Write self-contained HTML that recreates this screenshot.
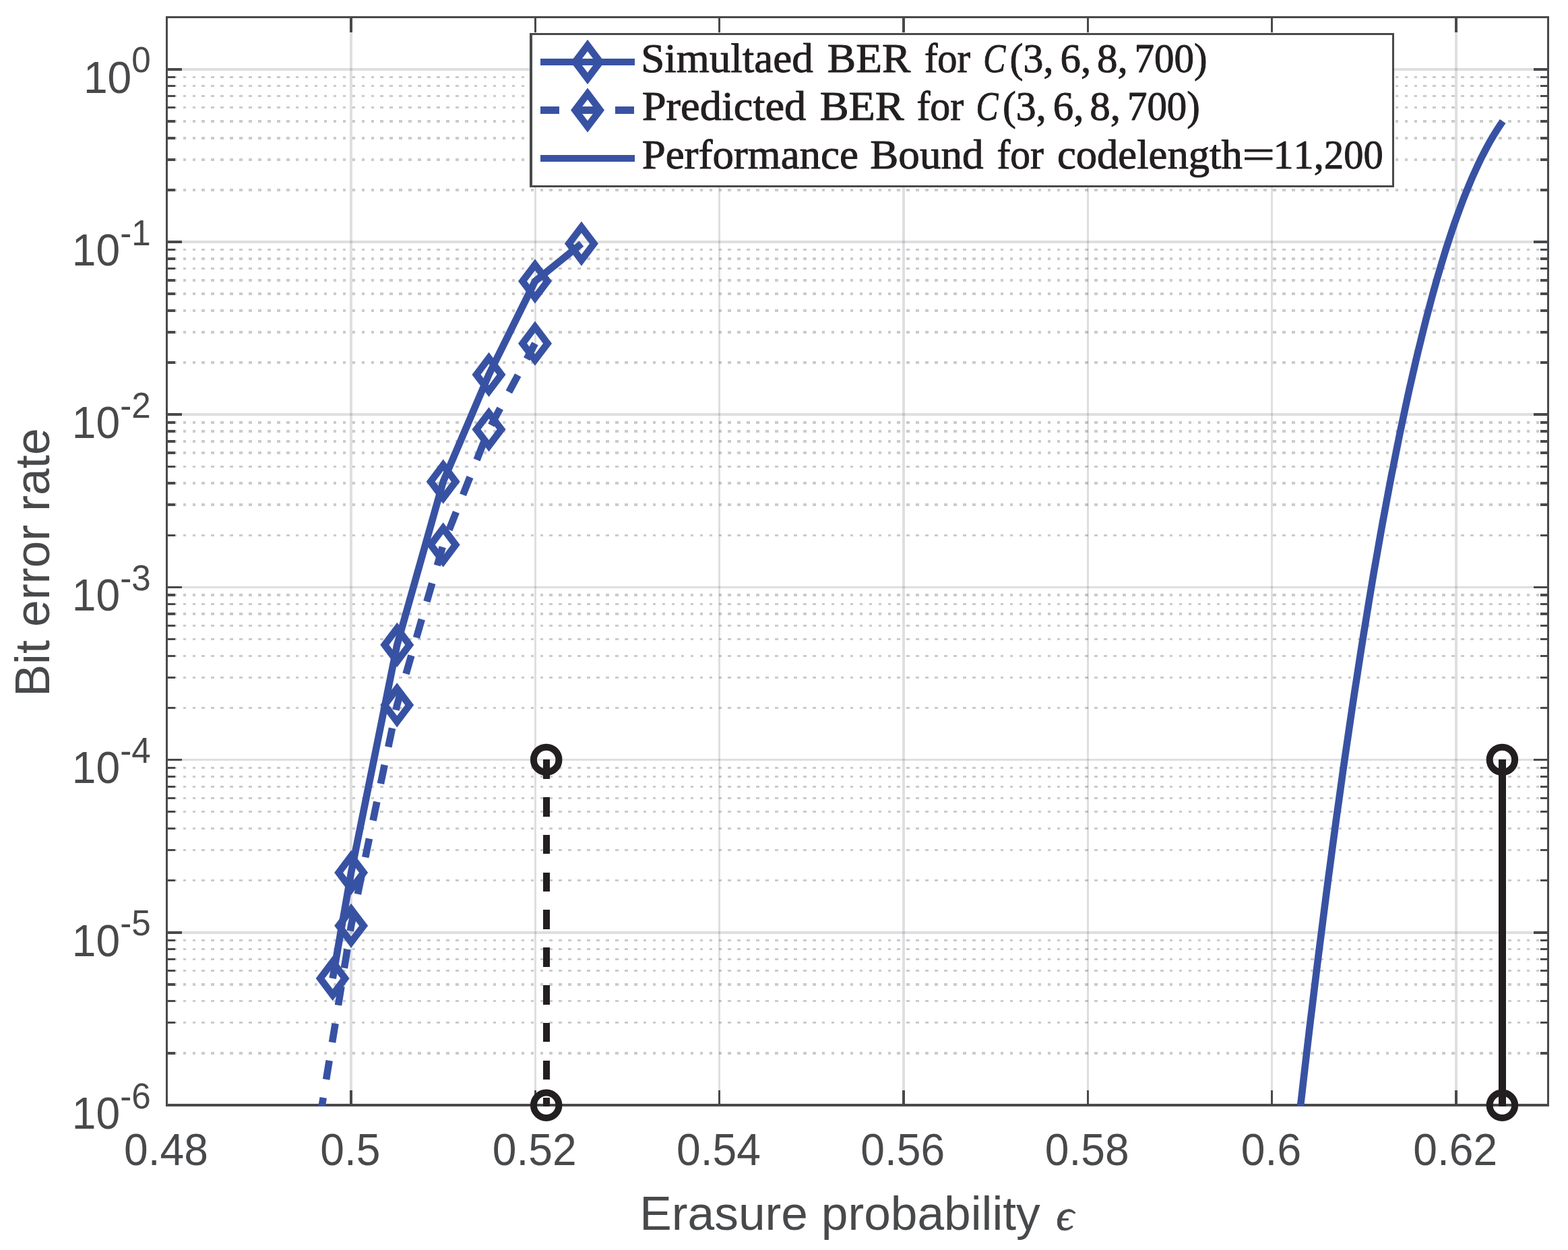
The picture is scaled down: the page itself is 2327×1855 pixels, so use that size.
<!DOCTYPE html>
<html lang="en"><head><meta charset="utf-8"><title>Bit error rate vs erasure probability</title>
<style>html,body{margin:0;padding:0;background:#fff}svg{display:block}</style></head>
<body><svg width="2327" height="1855" viewBox="0 0 2327 1855">
<rect width="2327" height="1855" fill="#fff"/>
<defs><clipPath id="ax"><rect x="246" y="24" width="2053" height="1618"/></clipPath></defs>
<g shape-rendering="crispEdges" fill="none" stroke-width="3.47">
<path stroke="rgba(58,62,70,0.27)" stroke-dasharray="4.56 9.386" d="M257.634 281.92H2296M257.634 236.81H2296M257.634 204.80H2296M257.634 179.97H2296M257.634 159.69H2296M257.634 142.53H2296M257.634 127.68H2296M257.634 114.57H2296M257.634 538.11H2296M257.634 493.00H2296M257.634 460.99H2296M257.634 436.16H2296M257.634 415.88H2296M257.634 398.72H2296M257.634 383.87H2296M257.634 370.76H2296M257.634 794.30H2296M257.634 749.19H2296M257.634 717.18H2296M257.634 692.35H2296M257.634 672.07H2296M257.634 654.91H2296M257.634 640.06H2296M257.634 626.95H2296M257.634 1050.49H2296M257.634 1005.38H2296M257.634 973.37H2296M257.634 948.54H2296M257.634 928.26H2296M257.634 911.10H2296M257.634 896.25H2296M257.634 883.14H2296M257.634 1306.68H2296M257.634 1261.57H2296M257.634 1229.56H2296M257.634 1204.73H2296M257.634 1184.45H2296M257.634 1167.29H2296M257.634 1152.44H2296M257.634 1139.33H2296M257.634 1562.87H2296M257.634 1517.76H2296M257.634 1485.75H2296M257.634 1460.92H2296M257.634 1440.64H2296M257.634 1423.48H2296M257.634 1408.63H2296M257.634 1395.52H2296"/>
<path stroke="rgba(58,62,72,0.165)" d="M249 102.85H2296M249 359.04H2296M249 615.23H2296M249 871.42H2296M249 1127.61H2296M249 1383.80H2296"/>
<path stroke="rgba(58,62,72,0.165)" d="M521.03 27V1638M794.37 27V1638M1067.70 27V1638M1341.03 27V1638M1614.37 27V1638M1887.70 27V1638M2161.03 27V1638"/>
<path stroke="#48494b" d="M249 102.85H270M2296 102.85H2276M249 359.04H270M2296 359.04H2276M249 615.23H270M2296 615.23H2276M249 871.42H270M2296 871.42H2276M249 1127.61H270M2296 1127.61H2276M249 1383.80H270M2296 1383.80H2276M249 281.92H260M2296 281.92H2286M249 236.81H260M2296 236.81H2286M249 204.80H260M2296 204.80H2286M249 179.97H260M2296 179.97H2286M249 159.69H260M2296 159.69H2286M249 142.53H260M2296 142.53H2286M249 127.68H260M2296 127.68H2286M249 114.57H260M2296 114.57H2286M249 538.11H260M2296 538.11H2286M249 493.00H260M2296 493.00H2286M249 460.99H260M2296 460.99H2286M249 436.16H260M2296 436.16H2286M249 415.88H260M2296 415.88H2286M249 398.72H260M2296 398.72H2286M249 383.87H260M2296 383.87H2286M249 370.76H260M2296 370.76H2286M249 794.30H260M2296 794.30H2286M249 749.19H260M2296 749.19H2286M249 717.18H260M2296 717.18H2286M249 692.35H260M2296 692.35H2286M249 672.07H260M2296 672.07H2286M249 654.91H260M2296 654.91H2286M249 640.06H260M2296 640.06H2286M249 626.95H260M2296 626.95H2286M249 1050.49H260M2296 1050.49H2286M249 1005.38H260M2296 1005.38H2286M249 973.37H260M2296 973.37H2286M249 948.54H260M2296 948.54H2286M249 928.26H260M2296 928.26H2286M249 911.10H260M2296 911.10H2286M249 896.25H260M2296 896.25H2286M249 883.14H260M2296 883.14H2286M249 1306.68H260M2296 1306.68H2286M249 1261.57H260M2296 1261.57H2286M249 1229.56H260M2296 1229.56H2286M249 1204.73H260M2296 1204.73H2286M249 1184.45H260M2296 1184.45H2286M249 1167.29H260M2296 1167.29H2286M249 1152.44H260M2296 1152.44H2286M249 1139.33H260M2296 1139.33H2286M249 1562.87H260M2296 1562.87H2286M249 1517.76H260M2296 1517.76H2286M249 1485.75H260M2296 1485.75H2286M249 1460.92H260M2296 1460.92H2286M249 1440.64H260M2296 1440.64H2286M249 1423.48H260M2296 1423.48H2286M249 1408.63H260M2296 1408.63H2286M249 1395.52H260M2296 1395.52H2286M521.03 27V48M521.03 1638V1618M794.37 27V48M794.37 1638V1618M1067.70 27V48M1067.70 1638V1618M1341.03 27V48M1341.03 1638V1618M1614.37 27V48M1614.37 1638V1618M1887.70 27V48M1887.70 1638V1618M2161.03 27V48M2161.03 1638V1618"/>
<path d="M246 24H2299V1642H246ZM249 27V1638H2296V27Z" fill="#48494b" fill-rule="evenodd" stroke="none"/>
</g>
<g clip-path="url(#ax)" fill="none" stroke-linejoin="miter" stroke-miterlimit="10">
<path stroke="#3852a3" stroke-width="10.6" d="M493.7 1452.0L521.1 1295.0L589.3 957.0L657.7 714.7L725.5 555.9L794.0 417.3L862.9 361.6"/>
<path stroke="#3852a3" stroke-width="10.6" stroke-dasharray="28.4 27.4" d="M475.2 1657.0L521.1 1373.8L589.2 1046.3L657.7 808.5L725.5 637.2L794.0 509.7"/>
<path stroke="#3852a3" stroke-width="10.6" d="M1915.9 1766.5L1918.6 1742.8L1921.2 1719.2L1923.8 1695.8L1926.4 1672.7L1929.0 1649.6L1931.7 1626.8L1934.3 1604.2L1936.9 1581.7L1939.5 1559.4L1942.1 1537.4L1944.7 1515.5L1947.4 1493.7L1950.0 1472.2L1952.6 1450.8L1955.2 1429.7L1957.8 1408.7L1960.5 1387.9L1963.1 1367.3L1965.7 1346.8L1968.3 1326.6L1970.9 1306.5L1973.6 1286.6L1976.2 1266.9L1978.8 1247.4L1981.4 1228.1L1984.0 1208.9L1986.7 1189.9L1989.3 1171.2L1991.9 1152.5L1994.5 1134.1L1997.1 1115.9L1999.8 1097.8L2002.4 1079.9L2005.0 1062.2L2007.6 1044.7L2010.2 1027.4L2012.9 1010.2L2015.5 993.2L2018.1 976.4L2020.7 959.8L2023.3 943.4L2026.0 927.1L2028.6 911.0L2031.2 895.1L2033.8 879.4L2036.4 863.9L2039.0 848.5L2041.7 833.3L2044.3 818.3L2046.9 803.5L2049.5 788.8L2052.1 774.3L2054.8 760.0L2057.4 745.9L2060.0 732.0L2062.6 718.2L2065.2 704.6L2067.9 691.2L2070.5 677.9L2073.1 664.9L2075.7 652.0L2078.3 639.2L2081.0 626.7L2083.6 614.3L2086.2 602.1L2088.8 590.1L2091.4 578.2L2094.1 566.5L2096.7 555.0L2099.3 543.7L2101.9 532.5L2104.5 521.5L2107.2 510.7L2109.8 500.0L2112.4 489.5L2115.0 479.2L2117.6 469.0L2120.3 459.0L2122.9 449.2L2125.5 439.5L2128.1 430.0L2130.7 420.7L2133.3 411.5L2136.0 402.5L2138.6 393.7L2141.2 385.0L2143.8 376.5L2146.4 368.1L2149.1 359.9L2151.7 351.9L2154.3 344.0L2156.9 336.3L2159.5 328.7L2162.2 321.3L2164.8 314.1L2167.4 307.0L2170.0 300.0L2172.6 293.2L2175.3 286.6L2177.9 280.1L2180.5 273.7L2183.1 267.5L2185.7 261.5L2188.4 255.6L2191.0 249.8L2193.6 244.2L2196.2 238.7L2198.8 233.4L2201.5 228.2L2204.1 223.2L2206.7 218.3L2209.3 213.5L2211.9 208.8L2214.6 204.3L2217.2 199.9L2219.8 195.7L2222.4 191.6L2225.0 187.6L2227.6 183.7L2230.3 180.0"/>
<path shape-rendering="crispEdges" stroke="#231f20" stroke-width="10.42" stroke-dasharray="28.6 27.2" d="M811.07 1127.2V1642"/>
<path shape-rendering="crispEdges" stroke="#231f20" stroke-width="10.42" d="M2229.5 1127.2V1642"/>
</g>
<g fill="none" stroke="#3852a3" stroke-width="10.42" stroke-linejoin="miter" stroke-miterlimit="10">
<path d="M493.7 1427.5L512.1 1452.0L493.7 1476.5L475.2 1452.0Z"/>
<path d="M521.1 1270.5L539.6 1295.0L521.1 1319.5L502.7 1295.0Z"/>
<path d="M589.3 932.5L607.8 957.0L589.3 981.5L570.8 957.0Z"/>
<path d="M657.7 690.2L676.2 714.7L657.7 739.2L639.2 714.7Z"/>
<path d="M725.5 531.4L744.0 555.9L725.5 580.4L707.0 555.9Z"/>
<path d="M794.0 392.9L812.5 417.3L794.0 441.8L775.5 417.3Z"/>
<path d="M862.9 337.2L881.4 361.6L862.9 386.1L844.4 361.6Z"/>
<path d="M521.1 1349.3L539.6 1373.8L521.1 1398.2L502.7 1373.8Z"/>
<path d="M589.2 1021.8L607.7 1046.3L589.2 1070.8L570.8 1046.3Z"/>
<path d="M657.7 784.0L676.2 808.5L657.7 833.0L639.2 808.5Z"/>
<path d="M725.5 612.8L744.0 637.2L725.5 661.7L707.0 637.2Z"/>
<path d="M794.0 485.2L812.5 509.7L794.0 534.1L775.5 509.7Z"/>
</g>
<g fill="none" stroke="#231f20" stroke-width="10">
<circle cx="810.7" cy="1127.4" r="18.75"/>
<circle cx="810.7" cy="1640.2" r="18.75"/>
<circle cx="2229.4" cy="1127.4" r="18.75"/>
<circle cx="2229.4" cy="1640.2" r="18.75"/>
</g>
<path shape-rendering="crispEdges" d="M786 49H2069V278H786Z" fill="#48494b"/><path shape-rendering="crispEdges" d="M790 52H2066V275H790Z" fill="#fff"/>
<g fill="none" stroke="#3852a3" stroke-width="10.42" stroke-linejoin="miter" stroke-miterlimit="10">
<path shape-rendering="crispEdges" stroke-width="10.42" d="M802 92.05H942M802 235H942"/>
<path shape-rendering="crispEdges" stroke-width="10.42" stroke-dasharray="28 27.5" d="M802 163.5H942"/>
<path d="M872.0 67.5L890.5 92.0L872.0 116.5L853.5 92.0Z"/>
<path d="M872.0 139.0L890.5 163.4L872.0 187.8L853.5 163.4Z"/>
</g>
<g font-family="'Liberation Serif', serif" font-size="62" fill="#231f20" stroke="#231f20" stroke-width="1" stroke-linejoin="round" style="font-kerning:none">
<text><tspan x="951.2" y="107" textLength="255.6" lengthAdjust="spacingAndGlyphs">Simultaed</tspan> <tspan x="1227.8" y="107" textLength="123.5" lengthAdjust="spacingAndGlyphs">BER</tspan> <tspan x="1371.9" y="107" textLength="68.2" lengthAdjust="spacingAndGlyphs">for</tspan> <tspan x="1459.3" y="107" textLength="33.0" lengthAdjust="spacingAndGlyphs" font-style="italic">C</tspan><tspan x="1498.6" y="107" textLength="64.8" lengthAdjust="spacingAndGlyphs">(3,</tspan><tspan x="1573.5" y="107" textLength="45.6" lengthAdjust="spacingAndGlyphs">6,</tspan><tspan x="1628.0" y="107" textLength="45.8" lengthAdjust="spacingAndGlyphs">8,</tspan><tspan x="1683.6" y="107" textLength="108.1" lengthAdjust="spacingAndGlyphs">700)</tspan></text>
<text><tspan x="952.7" y="178" textLength="243.6" lengthAdjust="spacingAndGlyphs">Predicted</tspan> <tspan x="1216.7" y="178" textLength="125.1" lengthAdjust="spacingAndGlyphs">BER</tspan> <tspan x="1360.4" y="178" textLength="69.8" lengthAdjust="spacingAndGlyphs">for</tspan> <tspan x="1448.6" y="178" textLength="33.0" lengthAdjust="spacingAndGlyphs" font-style="italic">C</tspan><tspan x="1487.9" y="178" textLength="64.8" lengthAdjust="spacingAndGlyphs">(3,</tspan><tspan x="1562.8" y="178" textLength="45.6" lengthAdjust="spacingAndGlyphs">6,</tspan><tspan x="1617.3" y="178" textLength="45.8" lengthAdjust="spacingAndGlyphs">8,</tspan><tspan x="1672.9" y="178" textLength="108.1" lengthAdjust="spacingAndGlyphs">700)</tspan></text>
<text><tspan x="952.7" y="250" textLength="321.2" lengthAdjust="spacingAndGlyphs">Performance</tspan> <tspan x="1291.3" y="250" textLength="168.2" lengthAdjust="spacingAndGlyphs">Bound</tspan> <tspan x="1479.5" y="250" textLength="69.4" lengthAdjust="spacingAndGlyphs">for</tspan> <tspan x="1568.9" y="250" textLength="274.9" lengthAdjust="spacingAndGlyphs">codelength</tspan><tspan x="1843.6" y="250" textLength="48.5" lengthAdjust="spacingAndGlyphs">=</tspan><tspan x="1889.4" y="250" textLength="75.4" lengthAdjust="spacingAndGlyphs">11,</tspan><tspan x="1965.0" y="250" textLength="87.6" lengthAdjust="spacingAndGlyphs">200</tspan></text>
</g>
<g font-family="'Liberation Sans', sans-serif" fill="#48494b">
<text transform="translate(246.5 1729) scale(1 1.045)" font-size="64.2" text-anchor="middle">0.48</text>
<text transform="translate(519.8 1729) scale(1 1.045)" font-size="64.2" text-anchor="middle">0.5</text>
<text transform="translate(793.2 1729) scale(1 1.045)" font-size="64.2" text-anchor="middle">0.52</text>
<text transform="translate(1066.5 1729) scale(1 1.045)" font-size="64.2" text-anchor="middle">0.54</text>
<text transform="translate(1339.8 1729) scale(1 1.045)" font-size="64.2" text-anchor="middle">0.56</text>
<text transform="translate(1613.2 1729) scale(1 1.045)" font-size="64.2" text-anchor="middle">0.58</text>
<text transform="translate(1886.5 1729) scale(1 1.045)" font-size="64.2" text-anchor="middle">0.6</text>
<text transform="translate(2159.8 1729) scale(1 1.045)" font-size="64.2" text-anchor="middle">0.62</text>
<text transform="translate(223.8 137.6) scale(1 1.045)" font-size="64.2" text-anchor="end">10<tspan font-size="51.2" dy="-28.9">0</tspan></text>
<text transform="translate(223.8 393.8) scale(1 1.045)" font-size="64.2" text-anchor="end">10<tspan font-size="51.2" dy="-28.9">-1</tspan></text>
<text transform="translate(223.8 650.0) scale(1 1.045)" font-size="64.2" text-anchor="end">10<tspan font-size="51.2" dy="-28.9">-2</tspan></text>
<text transform="translate(223.8 906.2) scale(1 1.045)" font-size="64.2" text-anchor="end">10<tspan font-size="51.2" dy="-28.9">-3</tspan></text>
<text transform="translate(223.8 1162.4) scale(1 1.045)" font-size="64.2" text-anchor="end">10<tspan font-size="51.2" dy="-28.9">-4</tspan></text>
<text transform="translate(223.8 1418.6) scale(1 1.045)" font-size="64.2" text-anchor="end">10<tspan font-size="51.2" dy="-28.9">-5</tspan></text>
<text transform="translate(223.8 1674.8) scale(1 1.045)" font-size="64.2" text-anchor="end">10<tspan font-size="51.2" dy="-28.9">-6</tspan></text>
<text x="949.3" y="1824.9" font-size="71.3">Erasure probability <tspan x="1567.2" font-family="'Liberation Serif', serif" font-style="italic" font-size="66" stroke="#48494b" stroke-width="0.7">ϵ</tspan></text>
<text transform="translate(72.6 1033.8) rotate(-90)" font-size="71.7">Bit error rate</text>
</g>
</svg></body></html>
